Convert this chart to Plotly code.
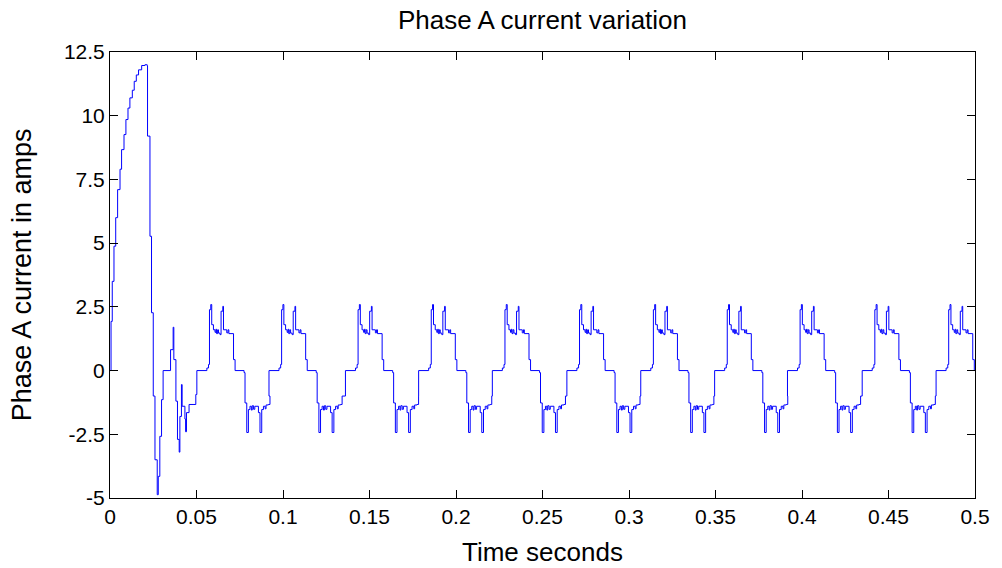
import plotly.graph_objects as go

# ---- data ----
# start-up transient (time s, current A), step-held
transient_t = [0.0, 0.0006, 0.0013, 0.0023, 0.0033, 0.0044, 0.0058, 0.0067, 0.0081,
               0.0092, 0.0104, 0.0115, 0.0129, 0.0140, 0.0152, 0.0165, 0.0183, 0.0202,
               0.0215, 0.0217, 0.0231, 0.0240, 0.0250, 0.0260, 0.0273, 0.0279, 0.0288,
               0.0298, 0.0307, 0.0350, 0.0365, 0.0369, 0.0381, 0.0390, 0.0400, 0.0404,
               0.0413, 0.0417, 0.0433, 0.0437, 0.0442, 0.0457, 0.0480, 0.0496]
transient_i = [0.0, 1.93, 3.5, 4.88, 6.0, 7.1, 7.9, 8.67, 9.26,
               9.85, 10.3, 10.7, 11.0, 11.35, 11.6, 11.8, 11.97, 12.0,
               11.97, 9.2, 5.27, 2.27, -1.0, -3.5, -4.87, -4.15, -2.58,
               -1.14, 0.0, 0.82, 1.7, 0.43, -1.2, -2.7, -3.2, -1.8,
               -0.55, -1.4, -1.9, -2.4, -1.65, -1.33, -1.33, -0.94]

# one steady-state cycle (offset ms from cycle start, current A)
cycle_offset_ms = [0.0, 5.8, 6.75, 7.3, 8.05, 8.6, 9.6, 10.5, 11.0, 11.4, 12.0, 12.5,
                   13.4, 14.0, 15.0, 15.4, 17.3, 18.0, 18.5, 21.2, 22.1,
                   27.3, 27.85, 28.85, 29.8, 30.7, 31.5, 32.0, 32.8, 33.5,
                   35.6, 36.5, 37.5, 38.5, 39.5, 40.0, 41.35, 42.27]
cycle_current = [0.0, 0.1, 0.24, 2.39, 2.59, 1.8, 1.6, 1.5, 1.62, 1.45, 1.6, 1.47,
                 1.41, 2.33, 2.52, 1.6, 1.48, 1.6, 1.45, 0.43, 0.0,
                 -0.08, -1.27, -2.43, -1.53, -1.4, -1.55, -1.38, -1.52, -1.4,
                 -1.65, -2.43, -1.53, -1.4, -1.5, -1.35, -1.33, -1.0]

# start time (s) of each steady-state cycle
cycle_starts = [0.0502, 0.0919, 0.1361, 0.1784, 0.2210, 0.2641,
                0.3068, 0.3495, 0.3916, 0.4348, 0.4775]

x_tick_vals = [0, 0.05, 0.1, 0.15, 0.2, 0.25, 0.3, 0.35, 0.4, 0.45, 0.5]
x_tick_text = ["0", "0.05", "0.1", "0.15", "0.2", "0.25", "0.3", "0.35", "0.4", "0.45", "0.5"]
y_tick_vals = [-5, -2.5, 0, 2.5, 5, 7.5, 10, 12.5]
y_tick_text = ["-5", "-2.5", "0", "2.5", "5", "7.5", "10", "12.5"]

# ---- assemble series ----
t = list(transient_t)
i = list(transient_i)
for s in cycle_starts:
    for off, val in zip(cycle_offset_ms, cycle_current):
        tt = s + off / 1000.0
        if tt <= 0.5:
            t.append(tt)
            i.append(val)
t.append(0.5)
i.append(i[-1])

FONT = "Liberation Sans, Arial, sans-serif"

fig = go.Figure()
fig.add_trace(go.Scatter(x=t, y=i, mode="lines", line=dict(color="#0000ff", width=1, shape="hv"),
                         showlegend=False, hoverinfo="skip"))

axis_common = dict(showline=True, linecolor="black", linewidth=1, mirror="ticks",
                   ticks="inside", ticklen=8, tickcolor="black", tickwidth=1,
                   showgrid=False, zeroline=False,
                   tickfont=dict(family=FONT, size=21, color="black"))

fig.update_layout(
    width=1002, height=568,
    margin=dict(l=110, r=25, t=52, b=69.5),
    paper_bgcolor="white", plot_bgcolor="white",
    title=dict(text="Phase A current variation", x=0.5, xref="paper", y=1 - 20 / 568,
               yref="container", xanchor="center", yanchor="middle",
               font=dict(family=FONT, size=26, color="black")),
    xaxis=dict(range=[0, 0.5], tickvals=x_tick_vals, ticktext=x_tick_text, **axis_common),
    yaxis=dict(range=[-5, 12.5], tickvals=y_tick_vals, ticktext=y_tick_text, **axis_common),
    annotations=[
        dict(text="Time seconds", x=0.5, y=-0.12, xref="paper", yref="paper",
             xanchor="center", yanchor="middle", showarrow=False,
             font=dict(family=FONT, size=26, color="black")),
        dict(text="Phase A current in amps", x=-0.1015, y=0.5, xref="paper", yref="paper",
             xanchor="center", yanchor="middle", showarrow=False, textangle=-90,
             font=dict(family=FONT, size=27, color="black")),
    ],
)

fig.write_html("out.html", config={"displayModeBar": False},
               post_script="document.body.style.margin='0';document.body.style.padding='0';")
